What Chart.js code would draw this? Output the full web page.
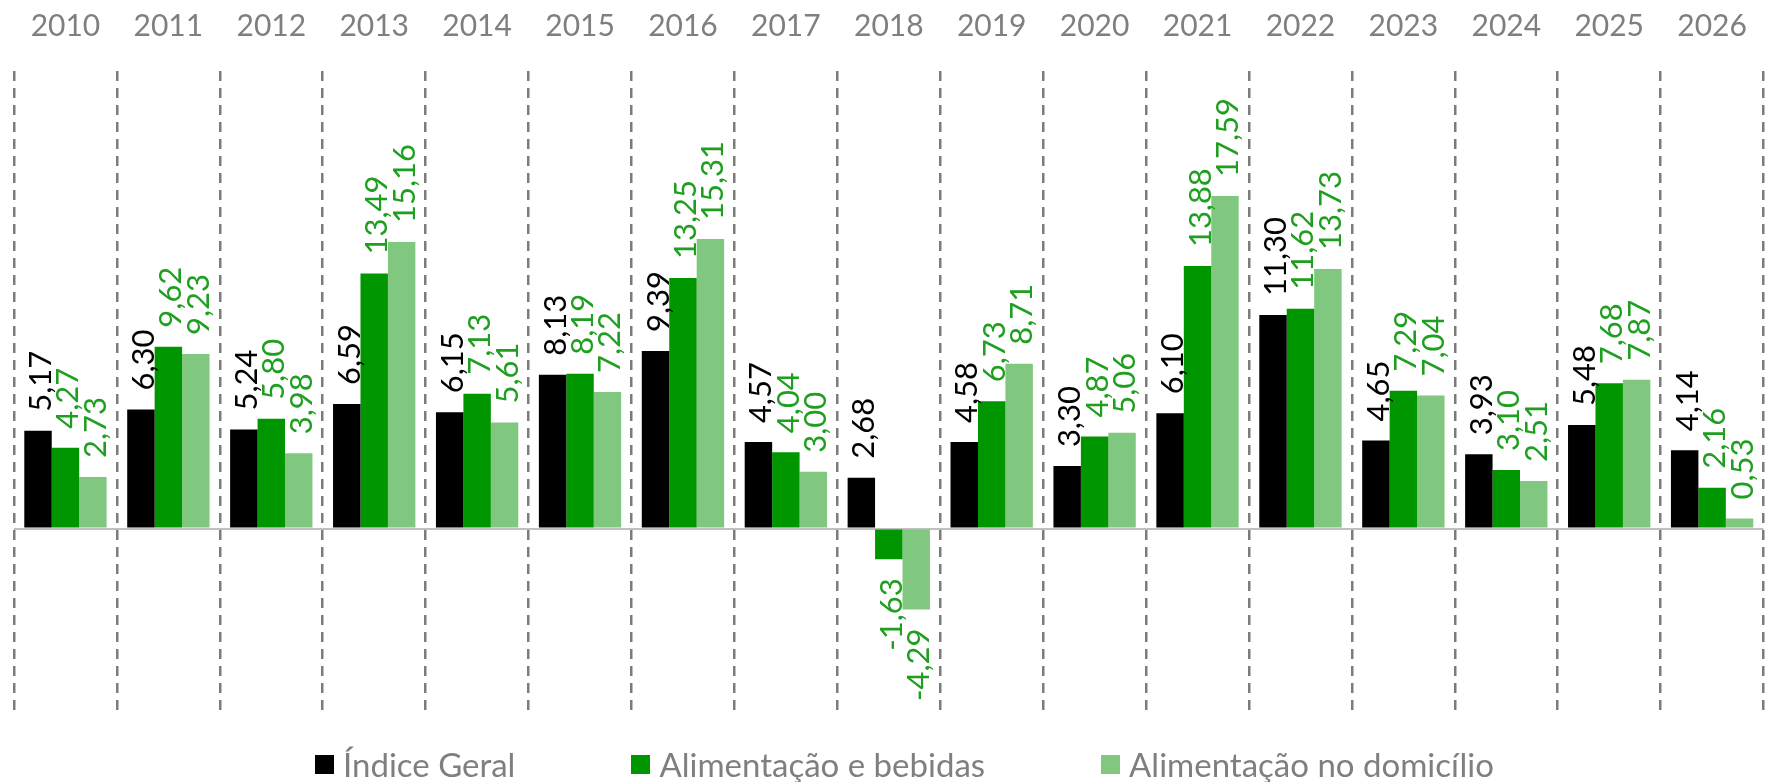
<!DOCTYPE html>
<html>
<head>
<meta charset="utf-8">
<script src="https://cdn.jsdelivr.net/npm/chart.js@4/dist/chart.umd.min.js"></script>
<style>
  body { margin: 0; background: #fff; }
  #wrap { position: relative; width: 1774px; height: 782px; }
  #legend {
    position: absolute; left: 315px; top: 744px; height: 40px;
    display: flex; align-items: center; white-space: nowrap;
    font-family: Lato, sans-serif; font-size: 33px; color: #7f7f7f;
  }
  #legend .item { display: flex; align-items: center; margin-right: 116px; }
  #legend .item:last-child { margin-right: 0; }
  #legend .box { width: 19px; height: 19px; margin-right: 9px; }
</style>
</head>
<body>
<div id="wrap">
  <canvas id="graph1"></canvas>
  <div id="legend"></div>
</div>
<script>
var anos = ['2010', '2011', '2012', '2013', '2014', '2015', '2016', '2017', '2018',
            '2019', '2020', '2021', '2022', '2023', '2024', '2025', '2026'];

var indiceGeral = [5.17, 6.30, 5.24, 6.59, 6.15, 8.13, 9.39, 4.57, 2.68,
                   4.58, 3.30, 6.10, 11.30, 4.65, 3.93, 5.48, 4.14];

var alimBebidas = [4.27, 9.62, 5.80, 13.49, 7.13, 8.19, 13.25, 4.04, -1.63,
                   6.73, 4.87, 13.88, 11.62, 7.29, 3.10, 7.68, 2.16];

var alimDomicilio = [2.73, 9.23, 3.98, 15.16, 5.61, 7.22, 15.31, 3.00, -4.29,
                     8.71, 5.06, 17.59, 13.73, 7.04, 2.51, 7.87, 0.53];

// rotated value labels on top of (or below) each bar
var rotLabels = {
  id: 'rotLabels',
  afterDatasetsDraw: function(chart) {
    var ctx = chart.ctx;
    chart.data.datasets.forEach(function(ds, i) {
      var meta = chart.getDatasetMeta(i);
      meta.data.forEach(function(bar, j) {
        var v = ds.data[j];
        var txt = v.toFixed(2).replace('.', ',');
        ctx.save();
        ctx.font = '31px Lato, sans-serif';
        ctx.fillStyle = ds.labelColor;
        ctx.textBaseline = 'middle';
        if (v >= 0) {
          ctx.translate(bar.x + 3, bar.y - 19);
          ctx.textAlign = 'left';
        } else {
          ctx.translate(bar.x + 3, bar.y + 19);
          ctx.textAlign = 'right';
        }
        ctx.rotate(-Math.PI / 2);
        ctx.fillText(txt, 0, 0);
        ctx.restore();
      });
    });
  }
};

var htmlLegend = {
  id: 'htmlLegend',
  afterUpdate: function(chart) {
    var box = document.getElementById('legend');
    box.innerHTML = '';
    chart.data.datasets.forEach(function(ds) {
      var it = document.createElement('div');
      it.className = 'item';
      var sq = document.createElement('span');
      sq.className = 'box';
      sq.style.background = ds.backgroundColor;
      var t = document.createElement('span');
      t.textContent = ds.label;
      it.appendChild(sq);
      it.appendChild(t);
      box.appendChild(it);
    });
  }
};

var graph1 = document.getElementById('graph1').getContext('2d');
var char = new Chart(graph1, {
  type: 'bar',
  data: {
    labels: anos,
    datasets: [{
      label: 'Índice Geral',
      data: indiceGeral,
      backgroundColor: '#000000',
      labelColor: '#000000'
    }, {
      label: 'Alimentação e bebidas',
      data: alimBebidas,
      backgroundColor: '#009600',
      labelColor: '#1f9f1f'
    }, {
      label: 'Alimentação no domicílio',
      data: alimDomicilio,
      backgroundColor: '#80c880',
      labelColor: '#1f9f1f'
    }]
  },
  options: {
    responsive: true,
    maintainAspectRatio: false,
    animation: false,
    categoryPercentage: 0.8,
    barPercentage: 1.0,
    layout: {
      padding: { left: 14, right: 3, top: -19, bottom: 72 }
    },
    scales: {
      x: {
        position: 'top',
        grid: {
          offset: true,
          drawTicks: false,
          color: '#7c7c7c',
          lineWidth: 2.5
        },
        border: { display: false, dash: [10, 7] },
        ticks: {
          color: '#7f7f7f',
          padding: 27,
          font: { family: 'Lato', size: 30 }
        }
      },
      y: {
        min: -9.6,
        max: 24.2,
        ticks: { display: false, stepSize: 1 },
        border: { display: false },
        grid: {
          drawTicks: false,
          lineWidth: 2,
          color: function(c) {
            return c.tick && c.tick.value === 0 ? '#c0c0c0' : 'rgba(0,0,0,0)';
          }
        }
      }
    },
    plugins: {
      legend: { display: false },
      tooltip: { enabled: false }
    }
  },
  plugins: [rotLabels, htmlLegend]
});
</script>
</body>
</html>
